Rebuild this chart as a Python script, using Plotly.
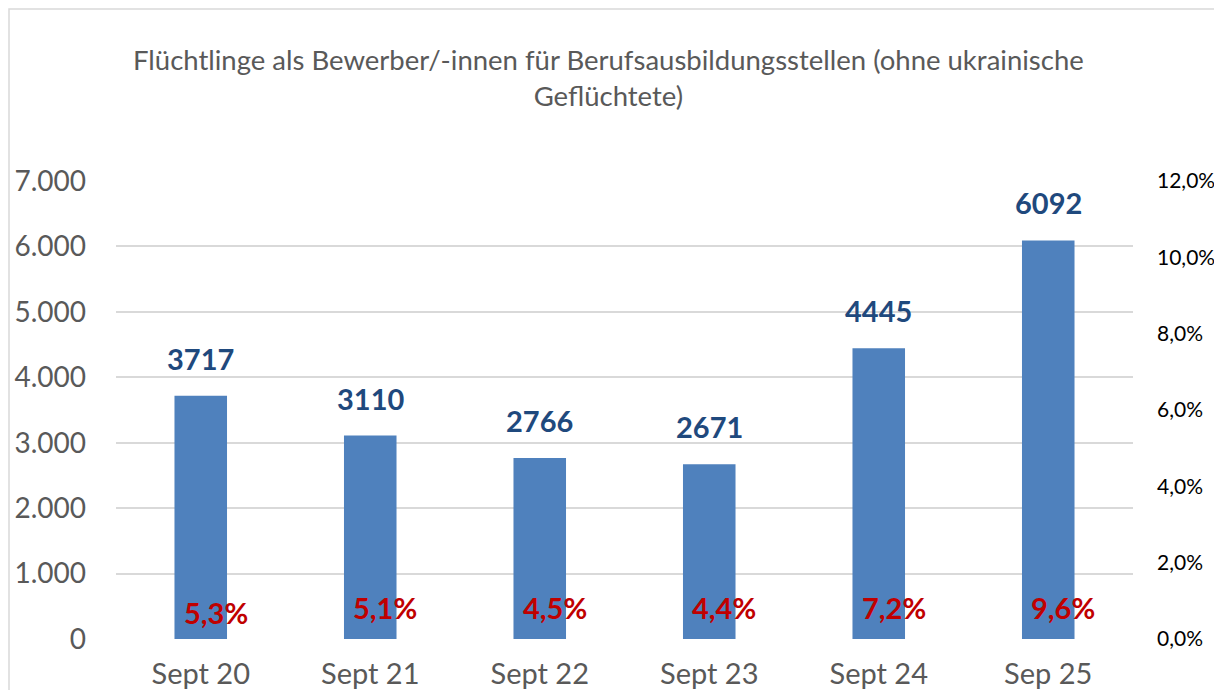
import plotly.graph_objects as go

categories = ["Sept 20", "Sept 21", "Sept 22", "Sept 23", "Sept 24", "Sep 25"]
bewerber = [3717, 3110, 2766, 2671, 4445, 6092]
anteil_labels = ["5,3%", "5,1%", "4,5%", "4,4%", "7,2%", "9,6%"]
left_ticks = [0, 1000, 2000, 3000, 4000, 5000, 6000, 7000]
left_tick_text = ["0", "1.000", "2.000", "3.000", "4.000", "5.000", "6.000", "7.000"]
right_ticks = [0, 0.02, 0.04, 0.06, 0.08, 0.10, 0.12]
right_tick_text = ["0,0%", "2,0%", "4,0%", "6,0%", "8,0%", "10,0%", "12,0%"]
title_text = "Flüchtlinge als Bewerber/-innen für Berufsausbildungsstellen (ohne ukrainische<br>Geflüchtete)"

FONT = "Lato"
# the page body has an 8px margin, so the figure is drawn 8px right/down
W, H = 1214, 682
ml, mr, mt, mb = 108, 89, 173, 51
pw = W - ml - mr
ph = H - mt - mb
pb = H - mb  # plot bottom in figure pixels


def px_x(p):
    return (p - ml) / pw


def px_y(p):
    return (pb - p) / ph


fig = go.Figure()
fig.add_trace(go.Bar(
    x=categories, y=bewerber, width=0.31,
    marker=dict(color="#4F81BD", line=dict(width=0)),
    showlegend=False, hoverinfo="skip",
))
# invisible trace to activate the secondary axis
fig.add_trace(go.Scatter(x=categories, y=[None] * len(categories), yaxis="y2",
                         showlegend=False, hoverinfo="skip"))

for c, v in zip(categories, bewerber):
    fig.add_annotation(x=c, y=v, text=f"<b>{v}</b>", showarrow=False,
                       yanchor="bottom", yshift=18,
                       font=dict(family=FONT, size=29, color="#1F497D", weight="bold"))

pct_shift = [27, 32, 32, 32, 32, 32]
for c, lab, s in zip(categories, anteil_labels, pct_shift):
    fig.add_annotation(x=c, y=0, text=f"<b>{lab}</b>", showarrow=False,
                       xshift=15, yshift=s, yanchor="middle",
                       font=dict(family=FONT, size=29, color="#C00000", weight="bold"))

fig.add_annotation(xref="paper", yref="paper", x=px_x(600.5), y=px_y(69.5),
                   xanchor="center", yanchor="middle", showarrow=False,
                   text=title_text, align="center",
                   font=dict(family=FONT, size=27.5, color="#595959"))

fig.add_shape(type="rect", xref="paper", yref="paper",
              x0=px_x(1), x1=px_x(1211), y0=px_y(800), y1=px_y(1),
              line=dict(color="#D9D9D9", width=1.5), fillcolor="rgba(0,0,0,0)", layer="below")

fig.update_layout(
    width=W, height=H,
    margin=dict(l=ml, r=mr, t=mt, b=mb, pad=0, autoexpand=False),
    paper_bgcolor="white", plot_bgcolor="white",
    xaxis=dict(showgrid=False, showline=False, ticks="", ticklabelstandoff=15,
               automargin=False,
               tickfont=dict(family=FONT, size=29, color="#595959")),
    yaxis=dict(range=[0, 7000], tickvals=left_ticks, ticktext=left_tick_text,
               showgrid=True, gridcolor="#D9D9D9", gridwidth=1.5, zeroline=False,
               showline=False, ticks="", ticklabelstandoff=29, automargin=False,
               tickfont=dict(family=FONT, size=28, color="#595959")),
    yaxis2=dict(range=[0, 0.12], tickvals=right_ticks, ticktext=right_tick_text,
                overlaying="y", side="right", showgrid=False, zeroline=False,
                showline=False, ticks="", ticklabelstandoff=23, automargin=False,
                tickfont=dict(family=FONT, size=21, color="#000000")),
)
fig.write_html("out.html")
